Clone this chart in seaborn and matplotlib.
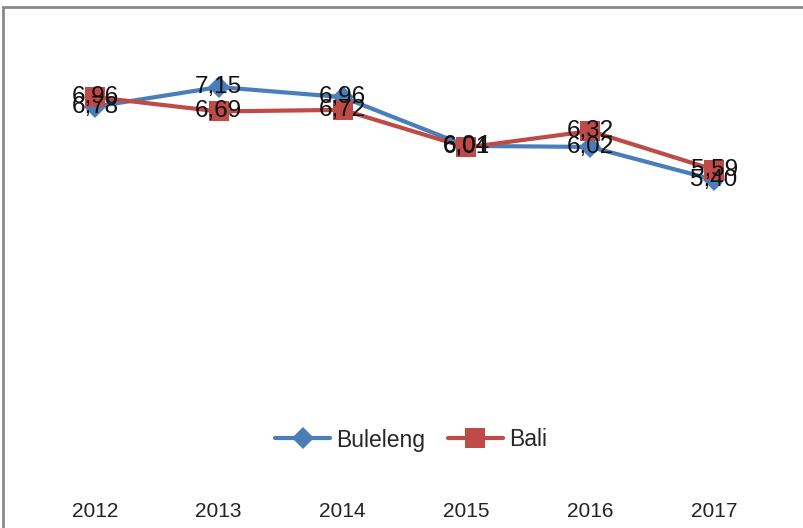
import matplotlib
matplotlib.use("Agg")
import matplotlib.pyplot as plt
import matplotlib.font_manager as fm
import seaborn as sns
import pandas as pd
from matplotlib.patches import Rectangle

# data
years = [2012, 2013, 2014, 2015, 2016, 2017]
buleleng = [6.78, 7.15, 6.96, 6.04, 6.02, 5.40]
bali = [6.96, 6.69, 6.72, 6.01, 6.32, 5.59]

sns.set_theme(style="white")
plt.rcParams["font.family"] = ["Liberation Sans", "DejaVu Sans"]

names = {f.name for f in fm.fontManager.ttflist}
tick_font = "Liberation Sans Narrow" if "Liberation Sans Narrow" in names else "Liberation Sans"

df = pd.DataFrame({"year": years, "Buleleng": buleleng, "Bali": bali})

fig = plt.figure(figsize=(8.04, 5.28), dpi=100)
ax = fig.add_axes([33 / 804, 1 - 466 / 528, 743 / 804, 424 / 528])

sns.lineplot(data=df, x="year", y="Buleleng", ax=ax, color="#4a7ebb",
             marker="D", markersize=11, linewidth=3, markeredgewidth=0,
             label="Buleleng")
sns.lineplot(data=df, x="year", y="Bali", ax=ax, color="#be4b48",
             marker="s", markersize=14, linewidth=3, markeredgewidth=0,
             label="Bali")

# data labels, centered on the points
for x, v in zip(years, buleleng):
    ax.text(x, v, f"{v:.2f}".replace(".", ","), ha="center", va="center",
            fontsize=17.5, color="#111111")
for x, v in zip(years, bali):
    ax.text(x, v, f"{v:.2f}".replace(".", ","), ha="center", va="center",
            fontsize=17.5, color="#111111")

ax.set_xlim(2011.5, 2017.5)
ax.set_ylim(0, 8)
ax.set_xticks(years)
ax.set_xticklabels([str(y) for y in years], family=tick_font, fontsize=15,
                   color="#222222")
ax.set_yticks([])
ax.set_xlabel("")
ax.set_ylabel("")
ax.tick_params(axis="x", length=0, pad=26)
for s in ax.spines.values():
    s.set_visible(False)

ax.legend(loc="center", bbox_to_anchor=(411 / 804, 1 - 440 / 528),
          bbox_transform=fig.transFigure, ncol=2, frameon=False,
          fontsize=16.5, handlelength=2.4, handletextpad=0.25,
          columnspacing=1.0)

# outer chart border
fig.patches.append(Rectangle((3 / 804, -0.05), 1.1, 1 - 7 / 528 + 0.05,
                             transform=fig.transFigure, fill=False,
                             edgecolor="#8a8a8a", linewidth=2))

fig.savefig("out.png", dpi=100)
